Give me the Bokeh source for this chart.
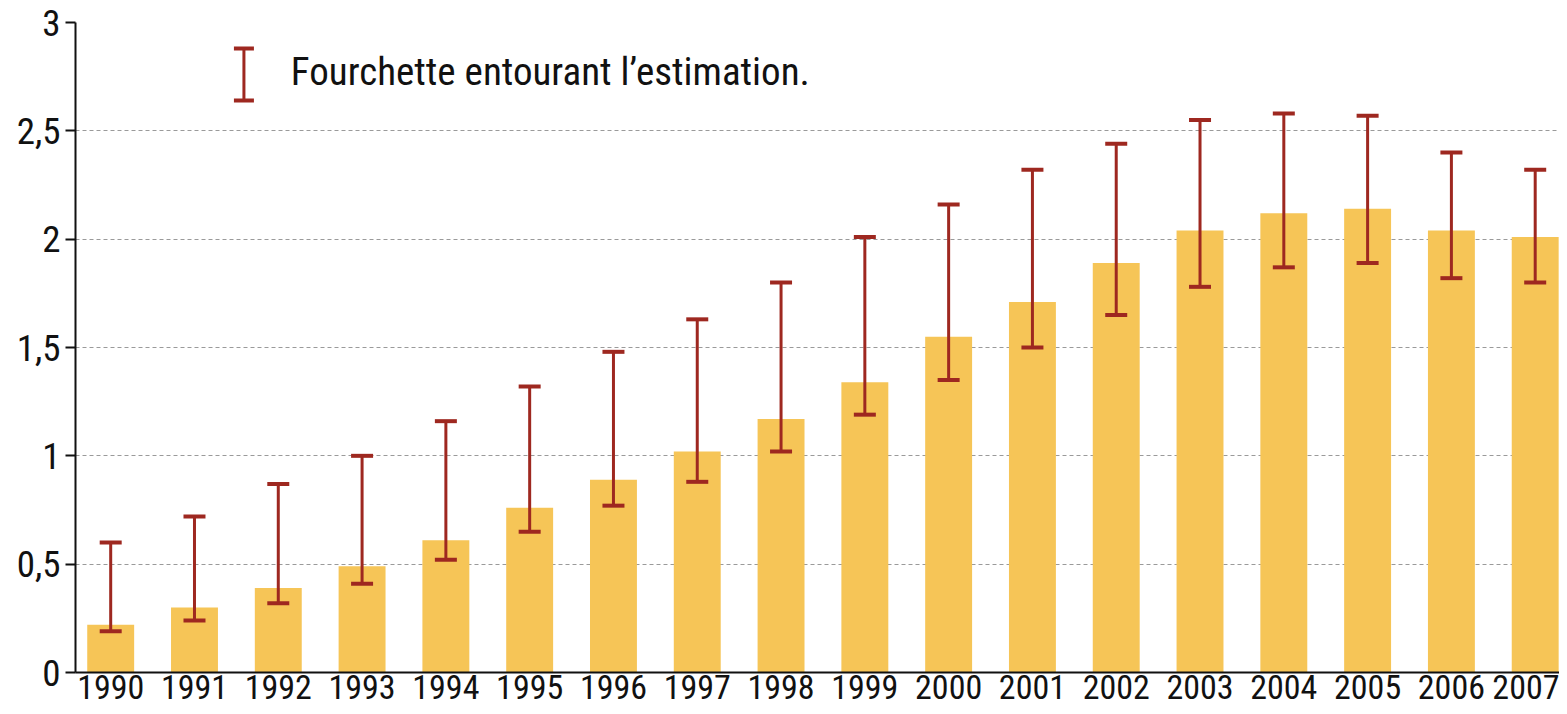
from bokeh.plotting import figure
from bokeh.models import ColumnDataSource, Range1d, FixedTicker, Whisker, TeeHead, Label
from bokeh.embed import file_html
from bokeh.resources import INLINE

# ---- data ----
years = [1990, 1991, 1992, 1993, 1994, 1995, 1996, 1997, 1998,
         1999, 2000, 2001, 2002, 2003, 2004, 2005, 2006, 2007]
estimate = [0.22, 0.30, 0.39, 0.49, 0.61, 0.76, 0.89, 1.02, 1.17,
            1.34, 1.55, 1.71, 1.89, 2.04, 2.12, 2.14, 2.04, 2.01]
upper = [0.60, 0.72, 0.87, 1.00, 1.16, 1.32, 1.48, 1.63, 1.80,
         2.01, 2.16, 2.32, 2.44, 2.55, 2.58, 2.57, 2.40, 2.32]
lower = [0.19, 0.24, 0.32, 0.41, 0.52, 0.65, 0.77, 0.88, 1.02,
         1.19, 1.35, 1.50, 1.65, 1.78, 1.87, 1.89, 1.82, 1.80]
y_ticks = [0, 0.5, 1, 1.5, 2, 2.5, 3]
y_labels = ["0", "0,5", "1", "1,5", "2", "2,5", "3"]
legend_text = "Fourchette entourant l\u2019estimation."

FONT = "'Liberation Sans Narrow', 'Roboto Condensed', 'Open Sans'"
BAR = "#F6C557"
ERR = "#9E2820"

src = ColumnDataSource(dict(x=years, top=estimate, upper=upper, lower=lower))

p = figure(width=1559, height=706, output_backend="svg", toolbar_location=None,
           x_range=Range1d(1989.58, 2007.29), y_range=Range1d(0, 3),
           min_border_left=75, min_border_top=22, min_border_right=0,
           min_border_bottom=34)
p.outline_line_color = None
p.background_fill_color = "white"
p.border_fill_color = "white"

p.vbar(x="x", top="top", width=0.56, source=src, fill_color=BAR, line_color=None)

w = Whisker(base="x", upper="upper", lower="lower", source=src,
            line_color=ERR, line_width=3, level="overlay",
            upper_head=TeeHead(size=22, line_color=ERR, line_width=4),
            lower_head=TeeHead(size=22, line_color=ERR, line_width=4))
p.add_layout(w)

# legend
leg_src = ColumnDataSource(dict(x=[1991.59], upper=[2.88], lower=[2.64]))
p.add_layout(Whisker(base="x", upper="upper", lower="lower", source=leg_src,
                     line_color=ERR, line_width=3, level="overlay",
                     upper_head=TeeHead(size=20, line_color=ERR, line_width=4),
                     lower_head=TeeHead(size=20, line_color=ERR, line_width=4)))
p.add_layout(Label(x=1992.15, y=2.77, text=legend_text, text_font=FONT,
                   text_font_size="39px", text_baseline="middle", text_color="#111111"))

# grid
p.xgrid.visible = False
p.ygrid.ticker = FixedTicker(ticks=y_ticks)
p.ygrid.grid_line_color = "#9a9a9a"
p.ygrid.grid_line_dash = "4 3"
p.ygrid.grid_line_width = 1

# y axis
p.yaxis.ticker = FixedTicker(ticks=y_ticks)
p.yaxis.major_label_overrides = {t: l for t, l in zip(y_ticks, y_labels)}
p.yaxis.axis_line_color = "#111111"
p.yaxis.axis_line_width = 2
p.yaxis.major_tick_line_color = "#111111"
p.yaxis.major_tick_line_width = 2
p.yaxis.major_tick_out = 10
p.yaxis.major_tick_in = 0
p.yaxis.minor_tick_line_color = None
p.yaxis.major_label_text_font = FONT
p.yaxis.major_label_text_font_size = "37px"
p.yaxis.major_label_text_color = "#111111"
p.yaxis.major_label_standoff = 5

# x axis
p.xaxis.ticker = FixedTicker(ticks=years)
p.xaxis.axis_line_color = "#111111"
p.xaxis.axis_line_width = 2
p.xaxis.major_tick_line_color = None
p.xaxis.major_tick_out = 0
p.xaxis.major_tick_in = 0
p.xaxis.minor_tick_line_color = None
p.xaxis.major_label_text_font = FONT
p.xaxis.major_label_text_font_size = "34px"
p.xaxis.major_label_text_color = "#111111"
p.xaxis.major_label_standoff = 2

open("out.html", "w").write(file_html(p, INLINE))
